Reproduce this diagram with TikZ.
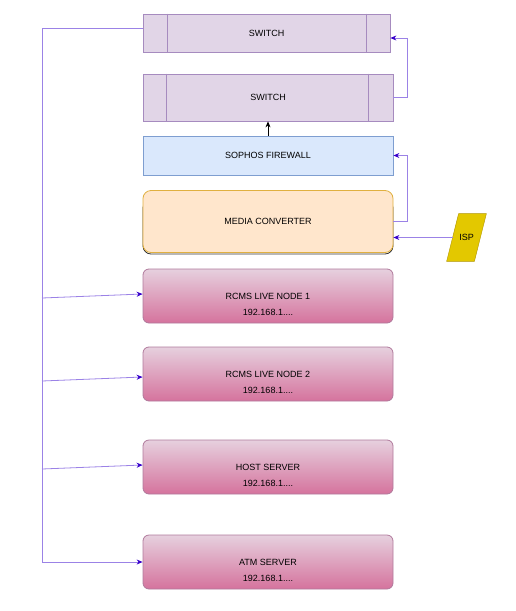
\documentclass[tikz,border=0pt]{standalone}
\usepackage{fontspec}
\setmainfont{Liberation Sans}
\usetikzlibrary{arrows.meta, shapes.geometric, positioning, backgrounds}

\definecolor{swfill}{HTML}{E1D5E7}
\definecolor{swline}{HTML}{A68BBF}
\definecolor{fwfill}{HTML}{DAE8FC}
\definecolor{fwline}{HTML}{7E9ED0}
\definecolor{mcfill}{HTML}{FFE6CC}
\definecolor{mcline}{HTML}{E0B040}
\definecolor{srvtop}{HTML}{E6D0DE}
\definecolor{srvbot}{HTML}{D5739D}
\definecolor{srvline}{HTML}{B07A9C}
\definecolor{ispfill}{HTML}{E3C800}
\definecolor{ispline}{HTML}{B09500}
\definecolor{linkc}{HTML}{9B82E6}
\definecolor{tipc}{HTML}{3700CC}

\begin{document}
\begin{tikzpicture}[
    x=1pt, y=-1pt, line width=0.8pt,
    font=\fontsize{9}{16}\selectfont,
    switch/.style={rectangle, draw=swline, fill=swfill, minimum width=250,
                   minimum height=47, text centered},
    firewall/.style={rectangle, draw=fwline, fill=fwfill, minimum width=250,
                     minimum height=39, text centered},
    conv/.style={rectangle, draw=mcline, fill=mcfill, rounded corners=8pt,
                 minimum width=250, minimum height=62, text centered},
    srv/.style={rectangle, draw=srvline, top color=srvtop, bottom color=srvbot,
                rounded corners=6pt, minimum width=250, minimum height=54,
                align=center},
    isp/.style={rectangle, minimum height=47, minimum width=27, inner sep=0pt},
    link/.style={draw=linkc, -{Stealth[length=6pt, width=5pt, color=tipc]}},
    arr/.style={-{Stealth[length=6pt, width=5pt]}, black},
  ]
    \useasboundingbox (0,0) rectangle (515,611);

    % Switches
    \node[switch, minimum width=247, minimum height=38] (sw1)
      at (266.5,33) {SWITCH};
    \node[switch] (sw2) at (268,97.5) {SWITCH};
    \draw[swline] ([xshift=25]sw1.north west) -- ([xshift=25]sw1.south west)
                  ([xshift=-24]sw1.north east) -- ([xshift=-24]sw1.south east);
    \draw[swline] ([xshift=24]sw2.north west) -- ([xshift=24]sw2.south west)
                  ([xshift=-25]sw2.north east) -- ([xshift=-25]sw2.south east);

    % Firewall und Konverter
    \node[firewall] (fw) at (268,155.5) {SOPHOS FIREWALL};
    \node[rectangle, draw=black!80, fill=white, rounded corners=8pt,
          minimum width=250, minimum height=54] (mcb) at (268,227) {};
    \node[conv] (mc) at (268,221.5) {MEDIA CONVERTER};

    % ISP (Parallelogramm)
    \node[isp] (ispn) at (466.5,237.5) {ISP};
    \begin{scope}[on background layer]
      \draw[ispline, fill=ispfill] ([xshift=6]ispn.north west)
        -- ([xshift=6]ispn.north east) -- ([xshift=-6]ispn.south east)
        -- ([xshift=-6]ispn.south west) -- cycle;
    \end{scope}

    % Server
    \node[srv] (rc1) at (268,296) {\rule{0pt}{8pt}\\RCMS LIVE NODE 1\\192.168.1....};
    \node[srv] (rc2) at (268,374) {\rule{0pt}{8pt}\\RCMS LIVE NODE 2\\192.168.1....};
    \node[srv] (host) at (268,467) {\rule{0pt}{8pt}\\HOST SERVER\\192.168.1....};
    \node[srv] (atm) at (268,562) {\rule{0pt}{8pt}\\ATM SERVER\\192.168.1....};

    % Bus links
    \coordinate (b0) at (42,28);
    \coordinate (b1) at (42,298);
    \coordinate (b2) at (42,381);
    \coordinate (b3) at (42,469);
    \coordinate (b4) at (42,562);
    \draw[linkc] ([yshift=5]sw1.west) -- (b0) -- (b4);
    \foreach \b/\n/\d in {b1/rc1/2,b2/rc2/-3,b3/host/2}
      \draw[link] (\b) -- ([yshift=\d]\n.west);
    \draw[link] (b4) -- (atm.west);

    % Uplinks
    \draw[link] (ispn.west) -- (ispn.west -| mc.east);
    \draw[link] (mc.east) -- ++(14,0) |- (fw.east);
    \draw[link] (sw2.east) -- ++(14,0) |- ([yshift=-5]sw1.east);
    \draw[arr] (fw.north) -- (sw2.south);
  \end{tikzpicture}
\end{document}
